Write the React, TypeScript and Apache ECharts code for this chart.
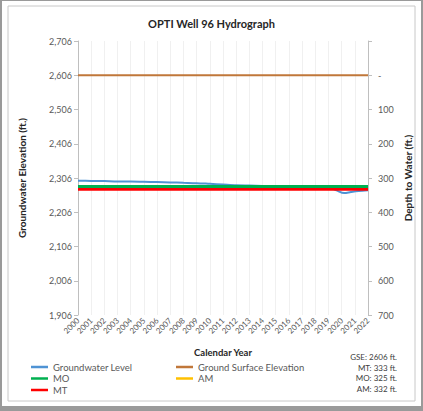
import React, { useEffect, useRef } from "react";
import * as echarts from "echarts";

const GSE = 2606;
const MO_DEPTH = 325;
const MT_DEPTH = 333;
const AM_DEPTH = 332;

const years = [2000, 2001, 2002, 2003, 2004, 2005, 2006, 2007, 2008, 2009, 2010, 2011, 2012, 2013, 2014, 2015, 2016, 2017, 2018, 2019, 2020, 2021, 2022];
const gwlYears = [2000, 2001, 2002, 2003, 2004, 2005, 2006, 2007, 2008, 2009, 2010, 2011, 2012, 2013, 2014, 2015, 2016, 2017, 2018, 2019, 2019.6, 2020.2, 2020.7, 2021.3, 2022];
const gwlElev = [2298, 2297.5, 2297, 2296, 2296, 2295, 2294, 2293, 2292, 2291, 2289, 2287, 2285, 2284, 2283, 2282, 2282, 2281, 2281, 2279, 2270, 2262, 2265, 2268, 2270];
const elevTicks = [2706, 2606, 2506, 2406, 2306, 2206, 2106, 2006, 1906];
const depthTicks = [-100, 0, 100, 200, 300, 400, 500, 600, 700];
const notes = ["GSE: 2606 ft.", "MT: 333 ft.", "MO: 325 ft.", "AM: 332 ft."];

const FONT = "Lato";

export default function App() {
  const ref = useRef<HTMLDivElement>(null);
  useEffect(() => {
    const chart = echarts.init(ref.current!, null, { renderer: "svg" });
    const toDepth = (e: number) => GSE - e;
    const flat = (d: number) => [[years[0], d], [years[years.length - 1], d]];
    const legendBase = {
      orient: "vertical",
      top: 362,
      padding: 0,
      itemWidth: 17,
      itemHeight: 2.5,
      itemGap: 1.5,
      icon: "rect",
      textStyle: { fontFamily: FONT, fontSize: 9.5, color: "#595959" },
    };
    const option: any = {
      animation: false,
      backgroundColor: "#9a9a9a",
      textStyle: { fontFamily: FONT },
      grid: { left: 78, right: 55, top: 41, bottom: 96 },
      title: {
        text: "OPTI Well 96 Hydrograph",
        left: "center",
        top: 13,
        textStyle: { fontFamily: FONT, fontSize: 11, fontWeight: "bold", color: "#262626" },
      },
      xAxis: {
        type: "value",
        min: 2000,
        max: 2022,
        interval: 1,
        axisLine: { lineStyle: { color: "#bfbfbf" } },
        axisTick: { show: false },
        splitLine: { show: true, lineStyle: { color: "#f0f0f0", width: 1 } },
        axisLabel: { rotate: 45, fontSize: 8, color: "#595959", margin: 4, formatter: (v: number) => String(v), fontFamily: FONT },
      },
      yAxis: [
        {
          type: "value",
          position: "left",
          inverse: true,
          min: depthTicks[0],
          max: depthTicks[depthTicks.length - 1],
          interval: 100,
          axisLine: { show: true, lineStyle: { color: "#bfbfbf" } },
          axisTick: { show: true, inside: false, length: 4, lineStyle: { color: "#bfbfbf" } },
          splitLine: { show: false },
          axisLabel: {
            fontSize: 9,
            color: "#595959",
            margin: 6,
            fontFamily: FONT,
            formatter: (v: number) => {
              const i = depthTicks.indexOf(v);
              return i >= 0 ? elevTicks[i].toLocaleString("en-US") : "";
            },
          },
        },
        {
          type: "value",
          position: "right",
          inverse: true,
          min: depthTicks[0],
          max: depthTicks[depthTicks.length - 1],
          interval: 100,
          axisLine: { show: true, lineStyle: { color: "#bfbfbf" } },
          axisTick: { show: true, inside: false, length: 4, lineStyle: { color: "#bfbfbf" } },
          splitLine: { show: false },
          axisLabel: {
            fontSize: 9,
            color: "#595959",
            margin: 10,
            fontFamily: FONT,
            formatter: (v: number) => (v < 0 ? "" : v === 0 ? "-" : String(v)),
          },
        },
      ],
      legend: [
        { ...legendBase, left: 31, data: ["Groundwater Level", "MO", "MT"] },
        { ...legendBase, left: 176, data: ["Ground Surface Elevation", "AM"] },
      ],
      series: [
        {
          name: "Ground Surface Elevation",
          type: "line",
          data: flat(0),
          showSymbol: false,
          lineStyle: { color: "#c0773a", width: 2 },
          itemStyle: { color: "#c0773a" },
          z: 2,
        },
        {
          name: "AM",
          type: "line",
          data: flat(AM_DEPTH),
          showSymbol: false,
          lineStyle: { color: "#ffc000", width: 2 },
          itemStyle: { color: "#ffc000" },
          z: 1,
        },
        {
          name: "Groundwater Level",
          type: "line",
          data: gwlYears.map((y, i) => [y, toDepth(gwlElev[i])]),
          showSymbol: false,
          smooth: 0.3,
          lineStyle: { color: "#4f93d4", width: 2 },
          itemStyle: { color: "#4f93d4" },
          z: 3,
        },
        {
          name: "MT",
          type: "line",
          data: flat(MT_DEPTH),
          showSymbol: false,
          lineStyle: { color: "#ff0000", width: 3 },
          itemStyle: { color: "#ff0000" },
          z: 4,
        },
        {
          name: "MO",
          type: "line",
          data: flat(MO_DEPTH),
          showSymbol: false,
          lineStyle: { color: "#00b050", width: 3 },
          itemStyle: { color: "#00b050" },
          z: 5,
        },
      ],
      graphic: [
        { type: "rect", z: -10, silent: true, shape: { x: 2, y: 1, width: 419, height: 405 }, style: { fill: "#ffffff" } },
        { type: "rect", z: -9, silent: true, shape: { x: 8, y: 6, width: 407, height: 395 }, style: { fill: "#ffffff", stroke: "#c8c8c8", lineWidth: 1 } },
        {
          type: "text",
          x: 22,
          y: 178,
          rotation: Math.PI / 2,
          style: { text: "Groundwater Elevation (ft.)", fontFamily: FONT, fontSize: 10, fontWeight: "bold", fill: "#262626", align: "center", verticalAlign: "middle" },
        },
        {
          type: "text",
          x: 408,
          y: 178,
          rotation: Math.PI / 2,
          style: { text: "Depth to Water (ft.)", fontFamily: FONT, fontSize: 10, fontWeight: "bold", fill: "#262626", align: "center", verticalAlign: "middle" },
        },
        {
          type: "text",
          x: 223,
          y: 352,
          style: { text: "Calendar Year", fontFamily: FONT, fontSize: 9.5, fontWeight: "bold", fill: "#262626", align: "center", verticalAlign: "middle" },
        },
        ...notes.map((t, i) => ({
          type: "text",
          x: 397,
          y: 357 + i * 10.5,
          style: { text: t, fontFamily: FONT, fontSize: 8, fill: "#404040", align: "right", verticalAlign: "middle" },
        })),
      ],
    };
    chart.setOption(option);
    return () => chart.dispose();
  }, []);
  return (
    <div style={{ position: "absolute", left: 0, top: 0, width: 423, height: 411 }}>
      <div ref={ref} style={{ width: 423, height: 411 }} />
    </div>
  );
}
